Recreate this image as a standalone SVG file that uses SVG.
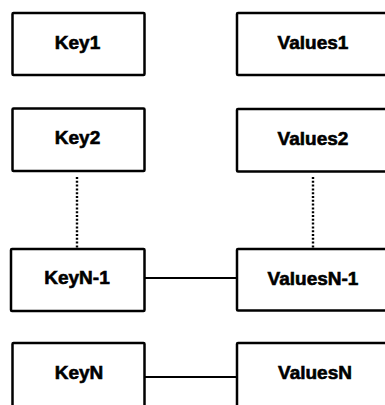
<svg xmlns="http://www.w3.org/2000/svg" width="385" height="405" viewBox="0 0 385 405">
  <style>
    .box { fill: #ffffff; stroke: #000000; stroke-width: 2.5; }
    .lbl { font-family: "Liberation Sans", Arial, sans-serif; font-weight: bold; font-size: 19px; fill: #000000; stroke: #000000; stroke-width: 0.6; text-anchor: middle; }
    .solid { stroke: #000000; stroke-width: 2; fill: none; }
    .dotted { stroke: #000000; stroke-width: 2.4; fill: none; stroke-dasharray: 2 1.8; }
  </style>
  <rect width="385" height="405" fill="#ffffff"/>
  <g id="connectors">
    <line class="dotted" x1="77" y1="177" x2="77" y2="248"/>
    <line class="dotted" x1="313" y1="177" x2="313" y2="248"/>
    <line class="solid" x1="144" y1="278" x2="237" y2="278"/>
    <line class="solid" x1="144" y1="377" x2="237" y2="377"/>
  </g>
  <g id="key1">
    <rect class="box" x="12.5" y="13" width="132" height="62" rx="1"/>
    <text class="lbl" x="77.5" y="49">Key1</text>
  </g>
  <g id="values1">
    <rect class="box" x="237" y="13" width="160" height="62" rx="1"/>
    <text class="lbl" x="313" y="49">Values1</text>
  </g>
  <g id="key2">
    <rect class="box" x="12.5" y="108.5" width="132" height="62.5" rx="1"/>
    <text class="lbl" x="77.5" y="144">Key2</text>
  </g>
  <g id="values2">
    <rect class="box" x="237" y="109" width="160" height="62.5" rx="1"/>
    <text class="lbl" x="313" y="145">Values2</text>
  </g>
  <g id="keyN-1">
    <rect class="box" x="11" y="249" width="133.5" height="62" rx="1"/>
    <text class="lbl" x="77" y="284">KeyN-1</text>
  </g>
  <g id="valuesN-1">
    <rect class="box" x="237" y="249" width="160" height="61.5" rx="1"/>
    <text class="lbl" x="313" y="285">ValuesN-1</text>
  </g>
  <g id="keyN">
    <rect class="box" x="12.5" y="343" width="132" height="80" rx="1"/>
    <text class="lbl" x="79" y="379">KeyN</text>
  </g>
  <g id="valuesN">
    <rect class="box" x="237" y="343" width="160" height="80" rx="1"/>
    <text class="lbl" x="315" y="379">ValuesN</text>
  </g>
</svg>
